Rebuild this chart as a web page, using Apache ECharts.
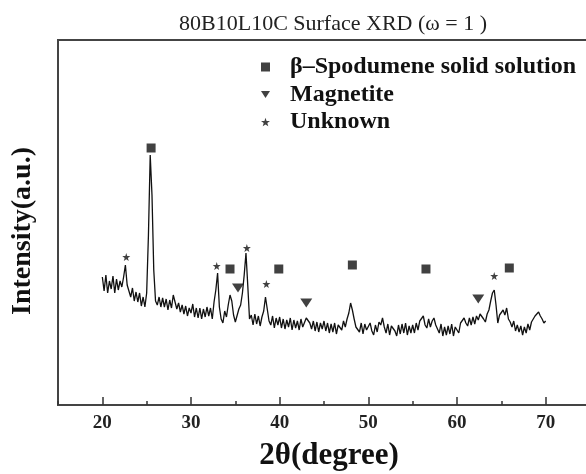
<!DOCTYPE html>
<html>
<head>
<meta charset="utf-8">
<script src="https://cdn.jsdelivr.net/npm/echarts@6/dist/echarts.min.js"></script>
<style>
html, body { margin: 0; padding: 0; background: #fff; }
#xrdChart { width: 586px; height: 474px; }
</style>
</head>
<body>
<div id="xrdChart"></div>
<script>
// scan: 2theta from 20 to 70 deg, step 0.2 (arbitrary units)
const scanStart = 20
const scanStep = 0.2
const intensity = [
  128, 114, 130, 112, 124, // 20
  116, 129, 112, 126, 115, // 21
  124, 118, 128, 140, 120, // 22
  121, 108, 117, 104, 113, // 23
  103, 112, 99, 108, 98, // 24
  112, 170, 250, 210, 135, // 25
  104, 100, 108, 98, 107, // 26
  98, 106, 95, 105, 97, // 27
  110, 103, 96, 102, 93, // 28
  100, 91, 99, 89, 97, // 29
  92, 101, 88, 97, 87, // 30
  97, 86, 96, 88, 98, // 31
  89, 97, 86, 103, 115, // 32
  132, 98, 86, 82, 94, // 33
  88, 100, 110, 104, 90, // 34
  83, 81, 96, 100, 112, // 35
  130, 152, 120, 86, 90, // 36
  80, 91, 81, 89, 79, // 37
  88, 94, 108, 96, 84, // 38
  80, 89, 77, 87, 80, // 39
  88, 77, 86, 76, 85, // 40
  78, 87, 75, 85, 77, // 41
  84, 75, 86, 78, 76, // 42
  87, 88, 82, 76, 84, // 43
  74, 83, 73, 82, 76, // 44
  84, 74, 82, 72, 81, // 45
  73, 82, 71, 80, 79, // 46
  75, 84, 78, 86, 92, // 47
  102, 95, 86, 78, 80, // 48
  73, 82, 71, 81, 75, // 49
  73, 82, 74, 70, 80, // 50
  73, 83, 80, 87, 78, // 51
  72, 81, 70, 79, 78, // 52
  74, 69, 80, 71, 81, // 53
  72, 82, 70, 79, 72, // 54
  80, 72, 82, 75, 84, // 55
  86, 89, 80, 77, 86, // 56
  78, 84, 87, 80, 76, // 57
  72, 81, 69, 78, 70, // 58
  79, 71, 81, 69, 78, // 59
  76, 72, 82, 81, 87, // 60
  82, 79, 87, 80, 88, // 61
  81, 89, 85, 91, 92, // 62
  86, 83, 91, 95, 104, // 63
  112, 115, 100, 82, 90, // 64
  88, 95, 90, 97, 86, // 65
  83, 78, 84, 74, 80, // 66
  73, 79, 70, 78, 72, // 67
  81, 75, 83, 85, 89, // 68
  88, 93, 89, 86, 82, // 69
  84 // 70
]

// phase markers [2theta, height]
const spodumenePeaks = [[25.5, 257], [34.4, 136], [39.9, 136], [48.2, 140], [56.5, 136], [65.9, 137]]
const magnetitePeaks = [[35.3, 117], [43.0, 102], [62.4, 106]]
const unknownPeaks = [[22.7, 148], [32.9, 139], [36.3, 157], [38.5, 121], [64.2, 129]]

const xLabels = [20, 30, 40, 50, 60, 70]

const serif = '"Liberation Serif", "Times New Roman", serif'
const triangleIcon = 'path://M0,0L10,0L5,8Z'
const starIcon = 'path://M5,0L6.2,3.5L10,3.6L7,5.9L8.1,9.5L5,7.4L1.9,9.5L3,5.9L0,3.6L3.8,3.5Z'

const lineData = intensity.map((v, i) => [+(scanStart + i * scanStep).toFixed(1), v])

const chart = echarts.init(document.getElementById('xrdChart'))
const option = {
  animation: false,
  backgroundColor: '#fff',
  title: {
    text: '80B10L10C Surface XRD (ω = 1 )',
    left: 328,
    top: 8,
    textAlign: 'center',
    textStyle: { fontFamily: serif, fontWeight: 'normal', fontSize: 22, color: '#222' }
  },
  legend: {
    orient: 'vertical',
    left: 256,
    top: 50,
    itemWidth: 9,
    itemHeight: 9,
    itemGap: 3.5,
    textStyle: {
      fontFamily: serif,
      fontWeight: 'bold',
      fontSize: 24,
      lineHeight: 24,
      color: '#111',
      padding: [0, 0, 0, 15]
    },
    data: [
      { name: 'β–Spodumene solid solution', icon: 'rect' },
      { name: 'Magnetite', icon: triangleIcon },
      { name: 'Unknown', icon: starIcon }
    ]
  },
  grid: {
    left: 58,
    top: 40,
    width: 532,
    height: 365,
    outerBoundsMode: 'none',
    containLabel: false,
    show: true,
    borderColor: '#444',
    borderWidth: 2
  },
  xAxis: [
    {
      // minor ticks every 5, labels on the tens
      type: 'value',
      min: 15,
      max: 75,
      interval: 5,
      axisLine: { show: false },
      axisTick: { show: true, inside: true, length: 4, lineStyle: { color: '#333', width: 1.5 } },
      splitLine: { show: false },
      axisLabel: {
        margin: 9,
        fontFamily: serif,
        fontWeight: 'bold',
        fontSize: 19,
        color: '#222',
        formatter: v => (xLabels.indexOf(v) >= 0 ? v : '')
      }
    },
    {
      // major ticks
      type: 'value',
      position: 'bottom',
      min: 15,
      max: 75,
      axisLine: { show: false },
      axisTick: { show: true, inside: true, length: 8, customValues: xLabels, lineStyle: { color: '#333', width: 1.5 } },
      axisLabel: { show: false },
      splitLine: { show: false }
    }
  ],
  yAxis: {
    type: 'value',
    min: 0,
    max: 365,
    axisLine: { show: false },
    axisTick: { show: false },
    axisLabel: { show: false },
    splitLine: { show: false }
  },
  graphic: [
    {
      type: 'text',
      x: 329,
      y: 456,
      style: {
        text: '2θ(degree)',
        font: 'bold 31px ' + serif,
        fill: '#111',
        align: 'center',
        verticalAlign: 'middle',
        textAlign: 'center',
        textVerticalAlign: 'middle'
      }
    },
    {
      type: 'text',
      x: 23,
      y: 231,
      rotation: Math.PI / 2,
      style: {
        text: 'Intensity(a.u.)',
        font: 'bold 28px ' + serif,
        fill: '#111',
        align: 'center',
        verticalAlign: 'middle',
        textAlign: 'center',
        textVerticalAlign: 'middle'
      }
    }
  ],
  series: [
    {
      name: 'XRD',
      type: 'line',
      xAxisIndex: 0,
      showSymbol: false,
      lineStyle: { color: '#111', width: 1.3 },
      data: lineData
    },
    {
      name: 'β–Spodumene solid solution',
      type: 'scatter',
      symbol: 'rect',
      symbolSize: 9,
      itemStyle: { color: '#111' },
      data: spodumenePeaks
    },
    {
      name: 'Magnetite',
      type: 'scatter',
      symbol: triangleIcon,
      symbolSize: [12, 9],
      itemStyle: { color: '#111' },
      data: magnetitePeaks
    },
    {
      name: 'Unknown',
      type: 'scatter',
      symbol: starIcon,
      symbolSize: 8,
      itemStyle: { color: '#111' },
      data: unknownPeaks
    }
  ]
}
chart.setOption(option)
</script>
</body>
</html>
